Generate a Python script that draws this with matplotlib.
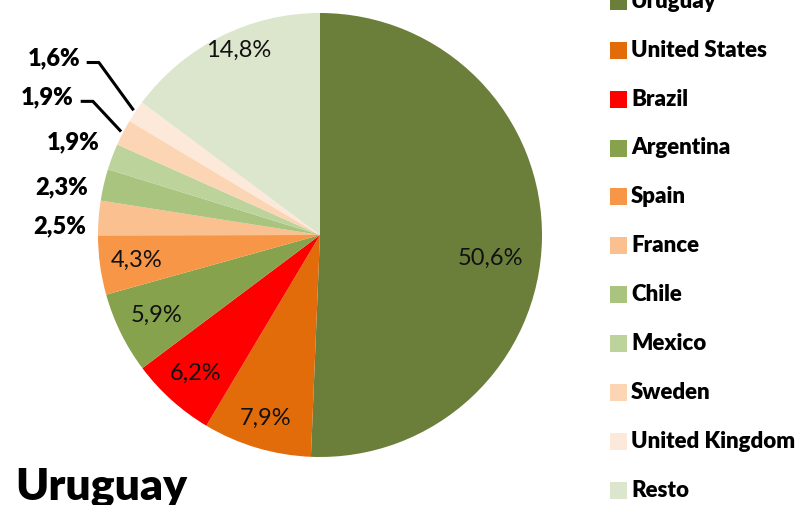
import matplotlib

matplotlib.use("Agg")
import matplotlib.pyplot as plt
import numpy as np
from matplotlib.patches import Rectangle

plt.rcParams["font.family"] = ["Lato", "DejaVu Sans"]

COUNTRIES = [
    "Uruguay", "United States", "Brazil", "Argentina", "Spain", "France",
    "Chile", "Mexico", "Sweden", "United Kingdom", "Resto",
]
SHARES = [50.6, 7.9, 6.2, 5.9, 4.3, 2.5, 2.3, 1.9, 1.9, 1.6, 14.8]
COLORS = [
    "#6b7f3b", "#e36c0a", "#ff0000", "#86a24c", "#f79646", "#fac090",
    "#a9c47f", "#bcd39b", "#fcd5b5", "#fde9d9", "#dce6cc",
]
TITLE = "Uruguay"

# pixel mapping: centre (320, 235), radius 222 px
R_PX = 222.0
CX, CY = 320.0, 235.0


def fmt(v: float) -> str:
    return f"{v:.1f}".replace(".", ",") + "%"


def main() -> None:
    fig = plt.figure(figsize=(8.1, 5.05), dpi=100)
    ax = fig.add_axes([0, 0, 1, 1])

    wedges, _ = ax.pie(
        SHARES,
        colors=COLORS,
        startangle=90,
        counterclock=False,
        radius=1.0,
        center=(0, 0),
        wedgeprops=dict(linewidth=0),
        frame=True,
    )
    ax.axis("off")
    ax.set_aspect("equal")
    ax.set_xlim(-CX / R_PX, (810 - CX) / R_PX)
    ax.set_ylim((CY - 505) / R_PX, CY / R_PX)

    mids = [np.deg2rad((w.theta1 + w.theta2) / 2) for w in wedges]

    # inside labels: radius and small angle tweak (deg)
    inside = {0: (0.775, -6.5), 1: (0.86, 0), 2: (0.84, 0), 3: (0.82, 0),
              4: (0.835, 0), 10: (0.91, -3)}
    for i, (r, dth) in inside.items():
        a = mids[i] + np.deg2rad(dth)
        ax.text(r * np.cos(a), r * np.sin(a), fmt(SHARES[i]), ha="center",
                va="center", fontsize=17, color="#111111")

    # outside labels (right-aligned text anchor in unit coords)
    outside = {5: (-1.054, 0.041), 6: (-1.045, 0.216), 7: (-0.995, 0.419),
               8: (-1.108, 0.622), 9: (-1.081, 0.797)}
    for i, (x, y) in outside.items():
        ax.text(x, y, fmt(SHARES[i]), ha="right", va="center", fontsize=17,
                fontweight="heavy", color="black")
    for i in (8, 9):
        x, y = outside[i]
        ex, ey = np.cos(mids[i]), np.sin(mids[i])
        y0 = y - 0.02
        ax.plot([x + 0.03, x + 0.085, ex * 1.01], [y0, y0, ey * 1.01],
                color="black", lw=2.2, solid_capstyle="butt")

    # legend drawn by hand
    step = 48.9
    for k, (name, col) in enumerate(zip(COUNTRIES, COLORS)):
        yp = 1.3 + k * step
        y = (CY - yp) / R_PX
        x0 = (610 - CX) / R_PX
        ax.add_patch(Rectangle((x0, y - 8.5 / R_PX), 17 / R_PX, 17 / R_PX,
                               facecolor=col, edgecolor="none",
                               clip_on=False))
        ax.text((631 - CX) / R_PX, y, name, ha="left", va="center",
                fontsize=16, fontweight="heavy", color="black")

    fig.text(15 / 810, 1 - 487 / 505, TITLE, ha="left", va="center",
             fontsize=32, fontweight="heavy", color="black")

    fig.savefig("out.png", dpi=100)
    plt.close(fig)


if __name__ == "__main__":
    main()
